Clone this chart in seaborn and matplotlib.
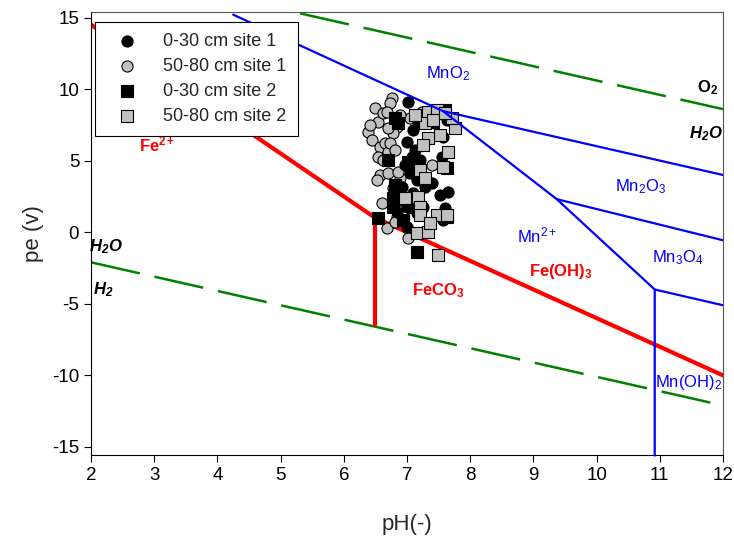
import matplotlib
matplotlib.use("Agg")
import matplotlib.pyplot as plt
import seaborn as sns
import pandas as pd

# --- data ---------------------------------------------------------------
# 0-30 cm site 1 (black circles)
ph_s1_top = [7.02, 7.09, 7.00, 7.08, 7.55, 7.57, 7.40, 7.52, 7.65, 7.60, 7.05, 6.92, 7.05,
             7.00, 6.84, 7.16, 7.00, 7.28, 7.36, 7.17, 7.63, 7.16, 7.09, 7.25, 7.57, 6.97,
             7.13, 6.89, 7.21]
pe_s1_top = [9.09, 7.13, 6.29, 5.24, 5.24, 6.64, 3.43, 2.59, 2.80, 1.68, 4.13, 3.15, 2.45,
             1.75, 1.40, 1.33, 0.35, 3.15, 7.62, 7.69, 7.83, 3.64, 2.73, 1.75, 0.84, 4.69,
             5.73, 2.24, 5.03]
# 50-80 cm site 1 (grey circles)
ph_s1_sub = [6.76, 6.73, 6.49, 6.54, 6.38, 6.45, 6.57, 6.65, 6.70, 6.54, 6.62, 6.84, 6.78,
             7.05, 7.24, 6.57, 6.70, 6.53, 6.78, 6.89, 7.40, 6.60, 6.68, 7.02, 6.84, 6.73,
             6.89, 6.62, 6.68, 6.70, 6.81, 6.86, 6.81, 6.41]
pe_s1_sub = [9.37, 9.02, 8.67, 7.69, 6.99, 6.43, 5.94, 6.22, 5.59, 5.24, 5.03, 7.34, 6.92,
             7.97, 8.39, 3.99, 4.13, 3.64, 3.08, 3.78, 4.69, 2.03, 0.28, -0.42, 1.05, 6.22,
             8.18, 8.32, 8.39, 7.27, 5.73, 4.20, 0.70, 7.48]
# 0-30 cm site 2 (black squares)
ph_s2_top = [6.81, 6.86, 6.70, 6.54, 6.78, 6.94, 7.16, 7.63, 7.02, 7.09, 7.41, 6.78, 7.63,
             7.60, 6.81]
pe_s2_top = [7.97, 7.62, 5.03, 0.98, 2.38, 0.84, -1.40, 4.48, 4.90, 1.75, 7.69, 1.75, 1.05,
             8.53, 3.29]
# 50-80 cm site 2 (grey squares)
ph_s2_sub = [7.33, 7.47, 7.28, 7.41, 7.76, 7.71, 7.52, 7.33, 7.25, 7.65, 7.57, 7.21, 7.28,
             6.97, 7.17, 7.21, 7.21, 7.47, 7.63, 7.16, 7.33, 7.36, 7.49, 7.60, 7.13]
pe_s2_sub = [8.39, 8.53, 7.62, 7.83, 7.27, 7.97, 6.78, 6.57, 6.08, 5.59, 4.55, 4.34, 3.78,
             2.38, 2.45, 1.75, 1.19, 1.19, 1.19, -0.07, 0.00, 0.63, -1.61, 8.32, 8.18]

# stability limits of water
ph_water = [2, 12]
pe_o2 = [18.6, 8.6]
pe_h2 = [-2.1, -12.1]

# iron boundaries
ph_fe2_feoh3 = [2.0, 6.5]
pe_fe2_feoh3 = [14.5, 1.0]
ph_feco3_feoh3 = [6.5, 12.0]
pe_feco3_feoh3 = [1.0, -10.0]
ph_fe2_feco3 = [6.5, 6.5]
pe_fe2_feco3 = [1.0, -6.5]

# manganese boundaries
ph_mn2 = [4.25, 7.57, 9.37, 10.92, 10.92]
pe_mn2 = [15.2, 8.46, 2.31, -4.0, -15.6]
ph_mno2_mn2o3 = [7.57, 12.0]
pe_mno2_mn2o3 = [8.46, 4.0]
ph_mn2o3_mn3o4 = [9.37, 12.0]
pe_mn2o3_mn3o4 = [2.31, -0.56]
ph_mn3o4_mnoh2 = [10.92, 12.0]
pe_mn3o4_mnoh2 = [-4.0, -5.1]

# --- style --------------------------------------------------------------
sns.set_style("ticks")
plt.rcParams['font.family'] = ['Liberation Sans', 'DejaVu Sans']
plt.rcParams['axes.unicode_minus'] = False
plt.rcParams['mathtext.fontset'] = 'custom'
plt.rcParams['mathtext.rm'] = 'Liberation Sans'
plt.rcParams['mathtext.it'] = 'Liberation Sans:italic'
plt.rcParams['mathtext.bf'] = 'Liberation Sans:bold'
plt.rcParams['mathtext.bfit'] = 'Liberation Sans:italic:bold'

fig = plt.figure(figsize=(7.34, 5.37), dpi=100)
ax = fig.add_axes([0.124, 0.153, 0.861, 0.825])

green = '#008000'
dash = (20, 6)
ax.plot(ph_water, pe_o2, color=green, lw=1.8, dashes=dash, zorder=2)
ax.plot(ph_water, pe_h2, color=green, lw=1.8, dashes=dash, zorder=2)

red = '#ff0000'
ax.plot(ph_fe2_feoh3, pe_fe2_feoh3, color=red, lw=3, zorder=2)
ax.plot(ph_feco3_feoh3, pe_feco3_feoh3, color=red, lw=3, zorder=2)
ax.plot(ph_fe2_feco3, pe_fe2_feco3, color=red, lw=3, zorder=2)

grey = '#c0c0c0'
kw = dict(s=64, edgecolor='black', linewidth=0.8, ax=ax, zorder=3)
sns.scatterplot(x=ph_s1_sub, y=pe_s1_sub, marker='o', color=grey, label='50-80 cm site 1', **kw)
sns.scatterplot(x=ph_s1_top, y=pe_s1_top, marker='o', color='black', label='0-30 cm site 1', **kw)
sns.scatterplot(x=ph_s2_top, y=pe_s2_top, marker='s', color='black', label='0-30 cm site 2', **kw)
sns.scatterplot(x=ph_s2_sub, y=pe_s2_sub, marker='s', color=grey, label='50-80 cm site 2', **kw)

blue = '#0000ff'
ax.plot(ph_mn2, pe_mn2, color=blue, lw=1.6, zorder=4, clip_on=False)
ax.plot(ph_mno2_mn2o3, pe_mno2_mn2o3, color=blue, lw=1.6, zorder=4)
ax.plot(ph_mn2o3_mn3o4, pe_mn2o3_mn3o4, color=blue, lw=1.6, zorder=4)
ax.plot(ph_mn3o4_mnoh2, pe_mn3o4_mnoh2, color=blue, lw=1.6, zorder=4)

# region labels
fs = 12
ax.text(7.65, 11.1, r'MnO$_2$', color=blue, fontsize=fs, ha='center', va='center')
ax.text(10.69, 3.2, r'Mn$_2$O$_3$', color=blue, fontsize=fs, ha='center', va='center')
ax.text(9.05, -0.2, r'Mn$^{2+}$', color=blue, fontsize=fs, ha='center', va='center')
ax.text(11.29, -1.75, r'Mn$_3$O$_4$', color=blue, fontsize=fs, ha='center', va='center')
ax.text(11.45, -10.5, r'Mn(OH)$_2$', color=blue, fontsize=fs, ha='center', va='center')
ax.text(3.04, 6.1, r'$\mathbf{Fe^{2+}}$', color=red, fontsize=fs, ha='center', va='center')
ax.text(9.44, -2.73, r'$\mathbf{Fe(OH)_3}$', color=red, fontsize=fs, ha='center', va='center')
ax.text(7.49, -4.06, r'$\mathbf{FeCO_3}$', color=red, fontsize=fs, ha='center', va='center')
ax.text(11.75, 10.1, r'$\mathbf{O_2}$', color='black', fontsize=fs, ha='center', va='center')
ax.text(11.73, 6.9, r'$\mathbfit{H_2O}$', color='black', fontsize=fs, ha='center', va='center')
ax.text(2.24, -0.98, r'$\mathbfit{H_2O}$', color='black', fontsize=fs, ha='center', va='center')
ax.text(2.2, -4.0, r'$\mathbfit{H_2}$', color='black', fontsize=fs, ha='center', va='center')

ax.set_xlim(2, 12)
ax.set_ylim(-15.55, 15.4)
ax.set_xticks(range(2, 13))
ax.set_yticks(range(-15, 16, 5))
ax.tick_params(labelsize=13.5, length=5, width=0.8, direction='out', colors='black')
ax.set_xlabel('pH(-)', fontsize=16, labelpad=22)
ax.set_ylabel('pe (v)', fontsize=16, labelpad=6)
for s in ax.spines.values():
    s.set_linewidth(0.8)
    s.set_color('black')
ax.spines['top'].set_color('#555555')
ax.spines['right'].set_color('#555555')

handles, labels = ax.get_legend_handles_labels()
order = [1, 0, 2, 3]
leg = ax.legend([handles[i] for i in order], [labels[i] for i in order],
                loc='upper left', bbox_to_anchor=(0.006, 0.977), borderaxespad=0,
                fontsize=13, frameon=True, fancybox=False, framealpha=1,
                edgecolor='black', labelspacing=0.45, handletextpad=0.8,
                handlelength=2.4, borderpad=0.6, markerscale=1.0)
leg.get_frame().set_linewidth(0.8)
leg.set_zorder(10)

fig.savefig('out.png', dpi=100)
